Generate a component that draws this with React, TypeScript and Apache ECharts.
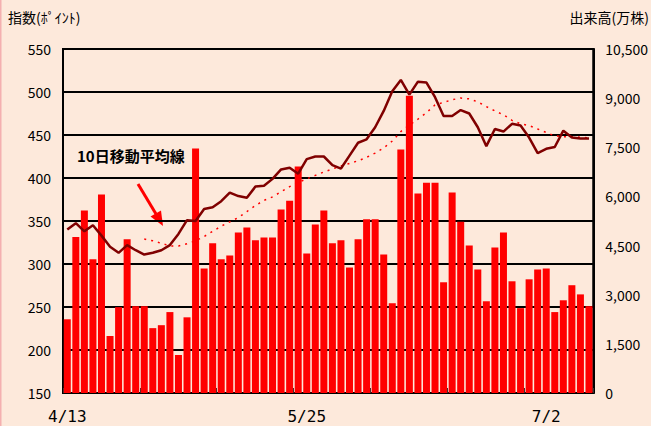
import React, { useEffect, useRef } from 'react';
import * as echarts from 'echarts';

// 出来高 (万株)
const volume = [
  2250, 4760, 5570, 4080, 6060, 1740, 2620, 4690, 2650, 2650,
  1980, 2070, 2470, 1160, 2310, 7460, 3800, 4570, 4080, 4200,
  4900, 5050, 4660, 4750, 4750, 5600, 5870, 6910, 4260, 5140,
  5570, 4570, 4660, 3830, 4690, 5300, 5300, 4230, 2740, 7430,
  9070, 6090, 6420, 6420, 3380, 6120, 5230, 4500, 3770, 2800,
  4440, 4900, 3410, 2590, 3470, 3770, 3800, 2470, 2830, 3290,
  3010, 2650,
];

// 指数 (ポイント)
const indexClose = [
  340, 347.5, 338, 345, 333, 320, 313, 322, 316, 311,
  313, 316, 322, 335, 351, 350, 364, 366, 373, 383,
  379, 377, 390, 391, 399, 410, 412, 405, 422, 425,
  425, 415, 411, 426, 441, 445, 459, 478, 501, 514,
  497, 512, 511, 494, 472, 472, 479, 475, 459, 437,
  457, 454, 463, 461, 447, 429, 434, 436, 455, 447,
  446, 446,
];

// 10日移動平均線
const ma10: (number | null)[] = [
  null, null, null, null, null, null, null, null, null, 329,
  327, 324, 321, 321, 323.5, 327, 332, 338, 344, 349,
  354, 361, 368, 374, 378, 384, 390, 395, 399, 403,
  407, 410.5, 414, 417, 420, 424, 429, 435, 443, 454,
  461.5, 468.5, 476, 485, 488, 491, 493, 492, 488.5, 483,
  478, 473.5, 467, 463, 461, 457, 453, 449, 448, 448,
  447.5, 446.5,
];

const labelIdx = [0, 28, 56];
const labelText = ['4/13', '5/25', '7/2'];

const FONT = '"Noto Sans CJK JP", "Noto Sans", sans-serif';

export default function App() {
  const ref = useRef<HTMLDivElement>(null);
  useEffect(() => {
    document.body.style.margin = '0';
    const chart = echarts.init(ref.current!, null, { renderer: 'svg' });
    const cats = volume.map((_, i) => String(i));
    chart.setOption({
      animation: false,
      backgroundColor: '#FDE9DB',
      textStyle: { fontFamily: FONT },
      grid: {
        left: 63, right: 53, top: 49, bottom: 33,
        show: true, borderColor: '#000', borderWidth: 2, backgroundColor: 'transparent',
      },
      xAxis: [
        {
          type: 'category',
          data: cats,
          boundaryGap: true,
          axisLine: { show: true, lineStyle: { color: '#000', width: 2 } },
          axisTick: { show: false },
          axisLabel: {
            interval: 0,
            margin: 15,
            fontSize: 16,
            fontFamily: '"DejaVu Sans Mono", monospace',
            color: '#000',
            formatter: (v: string, i: number) => {
              const k = labelIdx.indexOf(i);
              return k >= 0 ? labelText[k] : '';
            },
          },
          splitLine: { show: false },
        },
        {
          type: 'value',
          min: 0,
          max: 13.8,
          interval: 1,
          position: 'bottom',
          axisLine: { show: false },
          axisTick: { show: true, inside: true, length: 5, lineStyle: { color: '#333', width: 1 } },
          axisLabel: { show: false },
          splitLine: { show: false },
        },
      ],
      yAxis: [
        {
          type: 'value',
          min: 150, max: 550, interval: 50,
          position: 'left',
          axisLine: { show: true, lineStyle: { color: '#000', width: 2 } },
          axisTick: { show: false },
          axisLabel: { margin: 12, fontSize: 14, color: '#000', fontFamily: FONT },
          splitLine: { show: true, lineStyle: { color: '#000', width: 2 } },
        },
        {
          type: 'value',
          min: 0, max: 10500, interval: 1500,
          position: 'right',
          axisLine: { show: true, lineStyle: { color: '#000', width: 2 } },
          axisTick: { show: false },
          axisLabel: {
            margin: 12, fontSize: 14, color: '#000', fontFamily: FONT,
            formatter: (v: number) => v.toLocaleString('en-US'),
          },
          splitLine: { show: false },
        },
      ],
      series: [
        {
          type: 'bar',
          data: volume,
          xAxisIndex: 0,
          yAxisIndex: 1,
          barWidth: 7,
          itemStyle: { color: '#FF0000', borderWidth: 0 },
          z: 2,
        },
        {
          type: 'line',
          data: indexClose,
          xAxisIndex: 0,
          yAxisIndex: 0,
          symbol: 'none',
          lineStyle: { color: '#800000', width: 2.5 },
          z: 4,
        },
        {
          type: 'line',
          data: ma10,
          xAxisIndex: 0,
          yAxisIndex: 0,
          symbol: 'none',
          connectNulls: false,
          lineStyle: { color: '#FF0000', width: 1.5, type: [2, 5] },
          z: 3,
        },
      ],
      graphic: [
        { type: 'rect', shape: { x: 0, y: 0, width: 1.5, height: 426 }, style: { fill: '#F4B0B0' } },
        {
          type: 'text', x: 8, y: 10,
          style: { text: '指数(ﾎﾟｲﾝﾄ)', font: `14px ${FONT}`, fill: '#000', textVerticalAlign: 'top' },
        },
        {
          type: 'text', x: 649, y: 10,
          style: { text: '出来高(万株)', font: `14px ${FONT}`, fill: '#000', textAlign: 'right', textVerticalAlign: 'top' },
        },
        {
          type: 'text', x: 77, y: 148,
          style: { text: '10日移動平均線', font: `bold 15px ${FONT}`, fill: '#000', textVerticalAlign: 'top' },
        },
        {
          type: 'line',
          shape: { x1: 138, y1: 184, x2: 156, y2: 214 },
          style: { stroke: '#FF0000', lineWidth: 3 },
        },
        {
          type: 'polygon',
          shape: { points: [[163, 226], [161, 210.5], [150.5, 216.5]] },
          style: { fill: '#FF0000' },
        },
      ],
    });
    return () => chart.dispose();
  }, []);
  return <div ref={ref} style={{ position: 'fixed', left: 0, top: 0, width: 651, height: 426 }} />;
}
